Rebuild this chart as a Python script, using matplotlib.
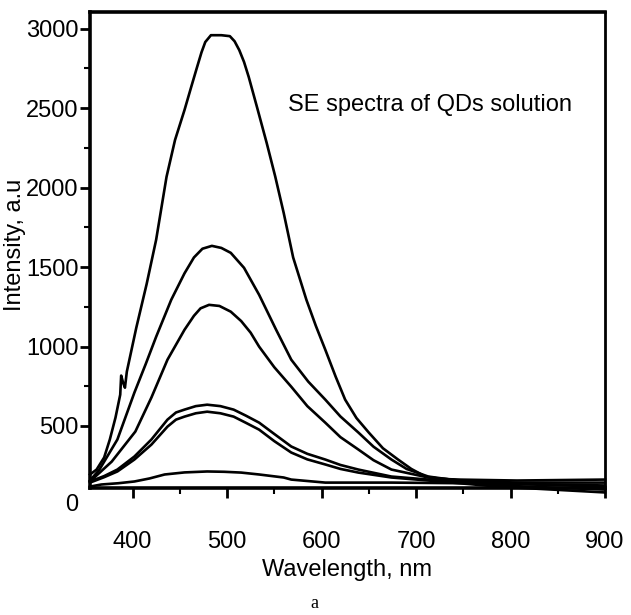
# SE spectra of QDs solution
import matplotlib.pyplot as plt

plt.rcParams["font.family"] = ["Liberation Sans", "DejaVu Sans"]

# wavelength (nm) / intensity (a.u.) for each spectrum
wl_a = [355, 362, 370, 376, 382, 387, 388, 390, 392, 394, 404, 415, 425, 436, 445,
        455, 462, 468, 473, 477, 483, 494, 503, 508, 513, 518, 523, 532, 542, 551,
        560, 570, 584, 594, 604, 615, 625, 637, 650, 665, 681, 695, 710, 725, 744,
        807, 900]
int_a = [195, 226, 302, 415, 553, 697, 817, 773, 741, 842, 1118, 1394, 1671, 2067, 2299,
         2487, 2630, 2751, 2850, 2915, 2958, 2958, 2952, 2920, 2864, 2790, 2695, 2500, 2280, 2070,
         1840, 1560, 1294, 1130, 980, 810, 666, 550, 459, 360, 289, 230, 182, 168, 163,
         157, 163]

wl_b = [355, 365, 384, 402, 414, 425, 441, 455, 465, 474, 484, 494, 504, 518, 534,
        552, 568, 586, 604, 620, 639, 655, 674, 690, 713, 744, 807, 900]
int_b = [157, 226, 415, 710, 890, 1061, 1294, 1460, 1560, 1615, 1633, 1620, 1589, 1495, 1325,
         1105, 917, 779, 666, 560, 459, 370, 289, 230, 182, 157, 144, 144]

wl_c = [355, 378, 403, 420, 437, 455, 465, 472, 481, 492, 504, 515, 525, 534, 550,
        568, 585, 604, 620, 639, 655, 674, 713, 786, 900]
int_c = [151, 276, 465, 679, 917, 1105, 1193, 1240, 1262, 1255, 1219, 1160, 1087, 999, 870,
         747, 625, 521, 430, 352, 285, 226, 176, 138, 119]

wl_d = [355, 370, 384, 402, 420, 437, 446, 455, 467, 479, 493, 507, 520, 534, 550,
        568, 585, 604, 620, 639, 674, 713, 786, 900]
int_d = [151, 185, 226, 308, 415, 540, 585, 603, 625, 634, 625, 603, 565, 521, 450,
         371, 325, 289, 255, 226, 182, 163, 126, 100]

wl_e = [355, 370, 384, 402, 420, 437, 446, 455, 467, 479, 493, 507, 520, 534, 550,
        568, 585, 604, 620, 639, 674, 713, 786, 900]
int_e = [144, 178, 214, 289, 383, 496, 540, 559, 580, 590, 580, 559, 520, 477, 405,
         333, 290, 258, 230, 207, 176, 157, 119, 82]

wl_f = [355, 367, 385, 402, 418, 434, 455, 479, 497, 515, 534, 560, 568, 604, 674,
        786, 900]
int_f = [119, 132, 140, 151, 170, 195, 208, 214, 212, 207, 195, 176, 163, 144, 144,
         138, 126]

yticks = [500, 1000, 1500, 2000, 2500, 3000]
xticks = [400, 500, 600, 700, 800, 900]

fig = plt.figure(figsize=(6.31, 6.15), dpi=100)
ax = fig.add_axes([0.1426, 0.2065, 0.8162, 0.774])

for wl, inten in [(wl_a, int_a), (wl_b, int_b), (wl_c, int_c),
                  (wl_d, int_d), (wl_e, int_e), (wl_f, int_f)]:
    ax.plot(wl, inten, color="black", lw=1.9, clip_on=False)

ax.set_xlim(355, 900)
ax.set_ylim(110, 3104)

ax.set_xticks(xticks)
ax.set_xticks(range(450, 900, 100), minor=True)
ax.set_yticks(yticks)
ax.set_yticks(range(750, 3000, 500), minor=True)

ax.tick_params(axis="both", which="major", direction="out", length=7, width=2,
               labelsize=17, color="black")
ax.tick_params(axis="both", which="minor", direction="out", length=4, width=1.5)
ax.tick_params(axis="x", pad=24)
ax.tick_params(axis="y", pad=1)

for side in ["left", "bottom", "top"]:
    ax.spines[side].set_linewidth(2.6)
ax.spines["right"].set_linewidth(2.0)

# origin label sits below the axis corner
ax.text(343, 0, "0", ha="right", va="center", fontsize=17, clip_on=False)

ax.set_xlabel("Wavelength, nm", fontsize=17, labelpad=4)
ax.set_ylabel("Intensity, a.u", fontsize=17)
ax.yaxis.set_label_coords(-0.124, 0.51)

ax.text(0.385, 0.805, "SE spectra of QDs solution", transform=ax.transAxes,
        fontsize=17, ha="left", va="center")

fig.text(0.499, 0.012, "a", fontsize=13, family="Liberation Serif", ha="center")

fig.savefig("out.png", dpi=100)
